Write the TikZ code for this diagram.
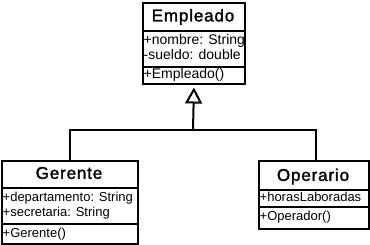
\documentclass[tikz,border=0pt]{standalone}
\usepackage{fontspec}
\setmainfont{Liberation Sans}
\newfontfamily\titlefont[LetterSpace=5,FakeBold=1.6]{Liberation Sans}
\usetikzlibrary{arrows.meta}
\begin{document}
\begin{tikzpicture}[x=1bp,y=-1bp,
  classbox/.style={draw=black,line width=2bp,fill=white,inner sep=0pt,
    rectangle,anchor=north west},
  sepline/.style={draw=black,line width=1.5bp},
  classname/.style={inner sep=0pt,font=\titlefont\fontsize{17bp}{20bp}\selectfont},
  member/.style={inner sep=0pt,anchor=mid west,font=\fontsize{13bp}{15bp}\selectfont},
  bigmember/.style={member,font=\fontsize{14bp}{16bp}\selectfont},
  link/.style={draw=black,line width=2bp},
]
\useasboundingbox (0,0) rectangle (370,245);

% Empleado
\node[classbox,minimum width=102bp,minimum height=81bp] (emp) at (142,2) {};
\draw[sepline] (142,31) -- (244,31);
\draw[sepline] (142,67) -- (244,67);
\node[classname] (empt) at (193,17) {Empleado};
\node[bigmember] (emp1) at (143.5,42) {+nombre: String};
\node[bigmember] (emp2) at (143.5,56.5) {-sueldo: double};
\node[bigmember] (emp3) at (143.5,75.5) {+Empleado()};

% Gerente
\node[classbox,minimum width=136bp,minimum height=83bp] (ger) at (1,160) {};
\draw[sepline] (1,188) -- (137,188);
\draw[sepline] (1,224) -- (137,224);
\node[classname] (gert) at (69,173) {Gerente};
\node[member] (ger1) at (2.5,199) {+departamento: String};
\node[member] (ger2) at (2.5,214) {+secretaria: String};
\node[member] (ger3) at (2.5,234.5) {+Gerente()};

% Operario
\node[classbox,minimum width=110bp,minimum height=68bp] (ope) at (258,160) {};
\draw[sepline] (258,190) -- (368,190);
\draw[sepline] (258,207) -- (368,207);
\node[classname] (opet) at (313,176.5) {Operario};
\node[member] (ope1) at (259.5,198.5) {+horasLaboradas};
\node[member] (ope2) at (259.5,217.5) {+Operador()};

% Generalization connectors
\coordinate (join) at (193,130);
\draw[link] (join) -| (ger.north);
\draw[link] (join) -| ([xshift=2bp]ope.north);
\draw[link,shorten >=2.5bp,-{Triangle[open,length=16bp,width=17bp,line width=2bp]}]
  (join) -- (emp.south);
\end{tikzpicture}
\end{document}
